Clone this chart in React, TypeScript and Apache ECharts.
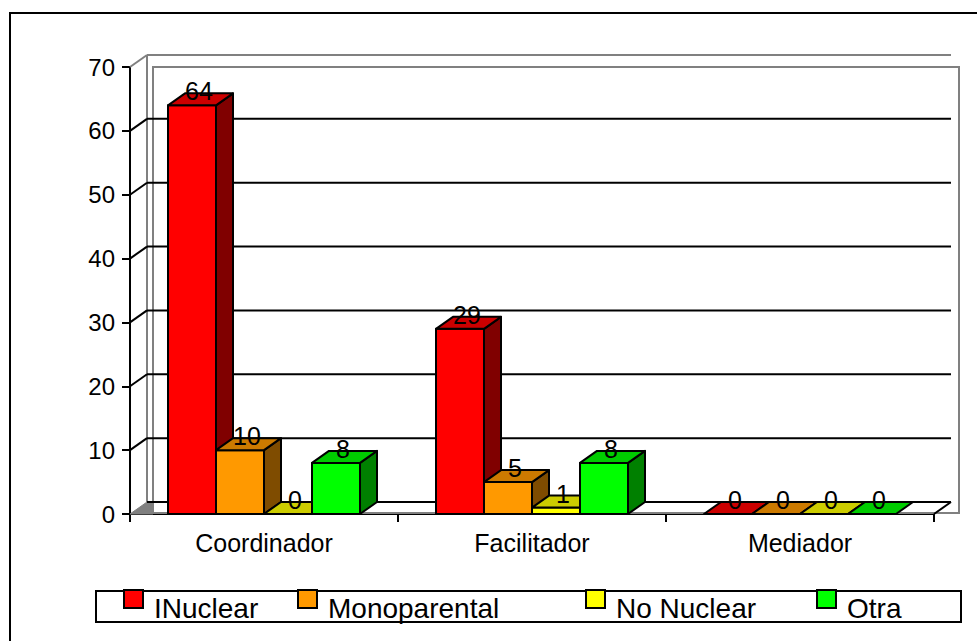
import React, { useEffect, useRef } from "react";
import * as echarts from "echarts";

const categories = ["Coordinador", "Facilitador", "Mediador"];
const seriesNames = ["INuclear", "Monoparental", "No Nuclear", "Otra"];
const iNuclear = [64, 29, 0];
const monoparental = [10, 5, 0];
const noNuclear = [0, 1, 0];
const otra = [8, 8, 0];
const yTicks = [0, 10, 20, 30, 40, 50, 60, 70];

const seriesValues = [iNuclear, monoparental, noNuclear, otra];

const frontColors = ["#FF0000", "#FF9900", "#FFFF00", "#00FF00"];
const topColors = ["#CC0000", "#CC7A00", "#CCCC00", "#00CC00"];
const sideColors = ["#800000", "#7F4C00", "#808000", "#008000"];
const legendLeft = [123, 297, 585, 816];

const DX = 17;
const DY = -12;
const GAP = 38 / 268;
const BW = 48 / 268;
const FONT = '"Liberation Sans", Arial, Helvetica, sans-serif';

export default function App() {
  const ref = useRef<HTMLDivElement>(null);
  useEffect(() => {
    if (!ref.current) return;
    const chart = echarts.init(ref.current, undefined, { renderer: "svg" });

    const gridSeries: any = {
      type: "custom",
      name: "walls",
      silent: true,
      data: yTicks.map((v) => [0, v]),
      encode: { x: 0, y: 1 },
      renderItem: (params: any, api: any) => {
        const v = api.value(1);
        const cs = params.coordSys;
        const x0 = cs.x;
        const x1 = cs.x + cs.width;
        const y = api.coord([0, v])[1];
        const yTop = api.coord([0, 70])[1];
        const yBot = api.coord([0, 0])[1];
        const children: any[] = [];
        if (params.dataIndex === 0) {
          children.push({
            type: "rect",
            shape: { x: x0 + 23, y: yTop, width: x1 + 25 - (x0 + 23), height: yBot - 1 - yTop },
            style: { fill: "none", stroke: "#808080", lineWidth: 2 },
          });
          children.push({
            type: "line",
            shape: { x1: x0 + DX, y1: yTop + DY, x2: x0 + DX, y2: yBot + DY },
            style: { stroke: "#808080", lineWidth: 2 },
          });
          children.push({
            type: "polygon",
            shape: { points: [[x0, yBot], [x0 + DX, yBot + DY], [x0 + 23, yBot + DY], [x0 + 23, yBot]] },
            style: { fill: "#808080", stroke: "#808080", lineWidth: 1 },
          });
          children.push({
            type: "line",
            shape: { x1: x1, y1: yBot, x2: x1 + DX, y2: yBot + DY },
            style: { stroke: "#000", lineWidth: 2 },
          });
        }
        if (v !== 0) {
          children.push({
            type: "line",
            shape: { x1: x0, y1: y, x2: x0 + DX, y2: y + DY },
            style: { stroke: v === 70 ? "#808080" : "#000", lineWidth: 2 },
          });
        }
        children.push({
          type: "line",
          shape: { x1: x0 + DX, y1: y + DY, x2: x1 + DX, y2: y + DY },
          style: { stroke: v === 70 ? "#808080" : "#000", lineWidth: 2 },
        });
        return { type: "group", children };
      },
      z: 1,
    };

    const barSeries = seriesValues.map((vals, si) => ({
      type: "custom",
      name: seriesNames[si],
      itemStyle: { color: frontColors[si] },
      data: vals.map((v, c) => [c, v]),
      encode: { x: 0, y: 1 },
      z: 2,
      renderItem: (params: any, api: any) => {
        const c = api.value(0);
        const v = api.value(1);
        const top = api.coord([c, v]);
        const base = api.coord([c, 0]);
        const band = api.size([1, 0])[0];
        const w = band * BW;
        const left = base[0] - band / 2 + band * GAP + si * w;
        const ty = top[1];
        const by = base[1];
        const h = by - ty;
        const stroke = { stroke: "#000", lineWidth: 2, lineJoin: "round" };
        const children: any[] = [];
        if (h > 0.5) {
          children.push({
            type: "rect",
            shape: { x: left, y: ty, width: w, height: h },
            style: { fill: frontColors[si], ...stroke },
          });
          children.push({
            type: "polygon",
            shape: { points: [[left + w, ty], [left + w + DX, ty + DY], [left + w + DX, by + DY], [left + w, by]] },
            style: { fill: sideColors[si], ...stroke },
          });
        }
        children.push({
          type: "polygon",
          shape: { points: [[left, ty], [left + DX, ty + DY], [left + w + DX, ty + DY], [left + w, ty]] },
          style: { fill: topColors[si], ...stroke },
        });
        children.push({
          type: "text",
          z2: 100,
          style: {
            text: String(v),
            x: left + w / 2 + 7,
            y: ty - 14,
            fill: "#000",
            fontSize: 25,
            fontFamily: FONT,
            align: "center",
            verticalAlign: "middle",
          },
        });
        return { type: "group", children };
      },
    }));

    const option: any = {
      animation: false,
      textStyle: { fontFamily: FONT },
      grid: { left: 130, right: 43, top: 67, bottom: 127, containLabel: false },
      xAxis: {
        type: "category",
        data: categories,
        axisLine: { show: true, lineStyle: { color: "#000", width: 2 } },
        axisTick: { show: true, length: 8, lineStyle: { color: "#000", width: 2 } },
        axisLabel: { fontSize: 25, color: "#000", margin: 16, fontFamily: FONT },
        splitLine: { show: false },
      },
      yAxis: {
        type: "value",
        min: 0,
        max: 70,
        interval: 10,
        axisLine: { show: true, lineStyle: { color: "#000", width: 2 } },
        axisTick: { show: true, length: 8, lineStyle: { color: "#000", width: 2 } },
        axisLabel: { fontSize: 24, color: "#000", margin: 15, fontFamily: FONT },
        splitLine: { show: false },
      },
      legend: seriesNames.map((n, i) => ({
        data: [n],
        left: legendLeft[i],
        top: 589,
        padding: 0,
        z: 10,
        icon: "rect",
        itemWidth: 19,
        itemHeight: 18,
        selectedMode: false,
        itemStyle: { borderColor: "#000", borderWidth: 2 },
        formatter: "{a|{name}}",
        textStyle: {
          fontSize: 28,
          color: "#000",
          fontFamily: FONT,
          rich: { a: { fontSize: 28, color: "#000", fontFamily: FONT, padding: [18, 0, 0, 6] } },
        },
      })),
      graphic: [
        {
          type: "rect",
          z: 0,
          silent: true,
          shape: { x: 10, y: 13, width: 1000, height: 700 },
          style: { fill: "none", stroke: "#000", lineWidth: 2 },
        },
        {
          type: "rect",
          z: 0,
          silent: true,
          shape: { x: 96, y: 591, width: 865, height: 31 },
          style: { fill: "#fff", stroke: "#000", lineWidth: 2 },
        },
      ],
      series: [gridSeries, ...barSeries],
    };
    chart.setOption(option);
    return () => chart.dispose();
  }, []);
  return (
    <div
      ref={ref}
      style={{ position: "absolute", left: 0, top: 0, width: 977, height: 641, background: "#fff" }}
    />
  );
}
